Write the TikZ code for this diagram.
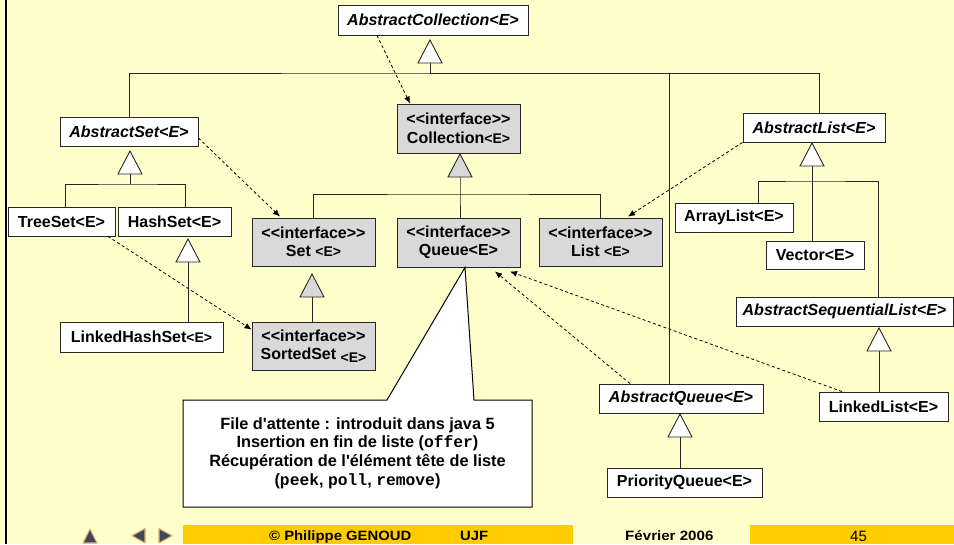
\documentclass[tikz,border=0pt]{standalone}
\usepackage{fontspec}
\newfontfamily\uifont{Liberation Sans}
\newfontfamily\codefont{Liberation Mono}
\usetikzlibrary{arrows.meta,calc}
\definecolor{paper}{HTML}{FFFFCC}
\definecolor{ifill}{HTML}{D9D9D9}
\definecolor{bar}{HTML}{FFCC00}
\definecolor{navfill}{RGB}{62,72,88}
\definecolor{navglow}{RGB}{232,172,118}
% generalisation arrow head: apex given, base 23pt below
\newcommand\gentri[2]{\draw[#1] (#2) -- ++(-12,23) -- ++(24,0) -- cycle;}
\newcommand\smallE{{\fontsize{14}{14}\selectfont<E>}}
\begin{document}
\begin{tikzpicture}[x=1pt,y=-1pt,
  box/.style={draw=black!85, line width=0.9pt, fill=white, inner sep=0pt,
    font=\uifont\bfseries\fontsize{16}{18.5}\selectfont, align=center},
  abs/.style={box, font=\uifont\bfseries\itshape\fontsize{16}{18.5}\selectfont},
  iface/.style={box, fill=ifill},
  link/.style={line width=0.9pt, draw=black!85},
  real/.style={line width=0.8pt, dash pattern=on 3pt off 2.5pt,
    -{Latex[length=7pt,width=6pt]}},
  gen/.style={draw=black!85, line width=0.9pt, fill=white},
  igen/.style={gen, fill=ifill},
  note/.style={font=\uifont\bfseries\fontsize{16.3}{18.7}\selectfont, align=center, inner sep=0pt},
  foot/.style={font=\uifont\bfseries\fontsize{13.5}{13.5}\selectfont, inner sep=0pt, anchor=base west},
  nav/.style={fill=navfill, draw=navglow, line width=1.1pt, line join=round},
]
\useasboundingbox (0,0) rectangle (954,544);
\fill[paper] (0,0) rectangle (954,544);
\draw[line width=2.5pt] (6,0) -- (6,544);

% ---- classes ----
\node[abs, minimum width=190, minimum height=30] (AC) at (433,20) {AbstractCollection<E>};
\node[abs, minimum width=138, minimum height=29] (AS) at (129,131.5) {AbstractSet<E>};
\node[box, minimum width=107, minimum height=29] (TS) at (61.5,221.5) {TreeSet<E>};
\node[box, minimum width=113, minimum height=29] (HS) at (174.5,221.5) {HashSet<E>};
\node[box, minimum width=163, minimum height=30] (LHS) at (141.5,337) {LinkedHashSet\smallE};
\node[iface, minimum width=123, minimum height=49] (Coll) at (458.5,128.5) {<{}<interface>{}>\\ Collection\smallE};
\node[iface, minimum width=123, minimum height=48] (SetI) at (313.5,242) {<{}<interface>{}>\\ Set \smallE};
\node[iface, minimum width=123, minimum height=49] (QueueI) at (458.5,242.5) {<{}<interface>{}>\\ Queue<E>};
\node[iface, minimum width=123, minimum height=48] (ListI) at (600.5,242) {<{}<interface>{}>\\ List \smallE};
\node[iface, minimum width=123, minimum height=48] (Sorted) at (313.5,346) {<{}<interface>{}>\\ SortedSet \raisebox{-3pt}{\smallE}};
\node[abs, minimum width=142, minimum height=29] (AL) at (814,127.5) {AbstractList<E>};
\node[box, minimum width=118, minimum height=29] (ArrL) at (734,217.5) {ArrayList<E>};
\node[box, minimum width=98, minimum height=28] (Vec) at (815,255) {Vector<E>};
\node[abs, minimum width=217, minimum height=29] (ASL) at (844.5,311.5) {AbstractSequentialList<E>};
\node[box, minimum width=129, minimum height=29] (LL) at (883.5,406.5) {LinkedList<E>};
\node[abs, minimum width=164, minimum height=29] (AQ) at (681,398.5) {AbstractQueue<E>};
\node[box, minimum width=155, minimum height=29] (PQ) at (684.5,482.5) {PriorityQueue<E>};

% ---- inheritance ----
\coordinate (acA) at (430,40);   \path (acA) ++(0,23) coordinate (acB); \coordinate (acS) at (430,73);
\coordinate (asA) at (130,151);  \path (asA) ++(0,23) coordinate (asB); \coordinate (asS) at (130,184);
\coordinate (hsA) at (188,239);  \path (hsA) ++(0,23) coordinate (hsB);
\coordinate (coA) at (460,154);  \path (coA) ++(0,23) coordinate (coB); \coordinate (coS) at (460,194);
\coordinate (seA) at (312,274);  \path (seA) ++(0,23) coordinate (seB);
\coordinate (alA) at (812,143);  \path (alA) ++(0,23) coordinate (alB); \coordinate (alS) at (812,181);
\coordinate (slA) at (879,328);  \path (slA) ++(0,23) coordinate (slB);
\coordinate (aqA) at (680,414);  \path (aqA) ++(0,23) coordinate (aqB);

\draw[link] (acB) -- (acS);
\draw[link] (AS.north) |- (acS) -| ([xshift=5pt]AL.north);
\draw[link] ([xshift=-12pt]AQ.north) |- (acS);

\draw[link] (asB) -- (asS);
\draw[link] ([xshift=3.5pt]TS.north) |- (asS) -| ([xshift=10.5pt]HS.north);
\draw[link] (hsB) -- (hsB |- LHS.north);

\draw[link] (coB) -- (coS) -- (coS |- QueueI.north);
\draw[link] (SetI.north) |- (coS) -| (ListI.north);
\draw[link] (seB) -- (seB |- Sorted.north);

\draw[link] (alB) -- (alB |- Vec.north);
\draw[link] ([xshift=24pt]ArrL.north) |- (alS) -| ([xshift=33.5pt]ASL.north);
\draw[link] (slB) -- (slB |- LL.north);
\draw[link] (aqB) -- (aqB |- PQ.north);

\gentri{gen}{acA}
\gentri{gen}{asA}
\gentri{gen}{hsA}
\gentri{igen}{coA}
\gentri{igen}{seA}
\gentri{gen}{alA}
\gentri{gen}{slA}
\gentri{gen}{aqA}

% ---- realisation ----
\draw[real] ([xshift=-56pt]AC.south) -- ([xshift=-48.5pt]Coll.north);
\draw[real] ([yshift=-6.5pt]AS.east) -- ([xshift=-33.5pt,yshift=1pt]SetI.north);
\draw[real] (AL.south west) -- ([xshift=27.5pt,yshift=1pt]ListI.north);
\draw[real] ([xshift=46.5pt]TS.south) -- ([yshift=-8pt]Sorted.north west);
\draw[real] ([xshift=-51pt]AQ.north) -- ([xshift=36.5pt,yshift=-4pt]QueueI.south);
\draw[real] ([xshift=-41.5pt]LL.north) -- ([xshift=51.5pt,yshift=-4pt]QueueI.south);

% ---- callout on Queue ----
\coordinate (tail) at ([xshift=6.5pt]QueueI.south);
\draw[line width=1pt, fill=white] (183,400) -- (387,400) -- (tail) -- (474,400)
  -- (532,400) -- (532,507) -- (183,507) -- cycle;
\node[note] (note) at (357.5,453) {File d'attente : introduit dans java 5\\
  Insertion en fin de liste ({\codefont offer})\\
  Récupération de l'élément tête de liste\\
  ({\codefont peek}, {\codefont poll}, {\codefont remove})};

% ---- footer ----
\fill[bar] (183,525) rectangle (573,544);
\fill[bar] (750,525) rectangle (954,544);
\node[foot] (copy) at (269,540.5) {\scalebox{1.1}[1]{© Philippe GENOUD}};
\node[foot] (ujf) at (460,540.5) {\scalebox{1.1}[1]{UJF}};
\node[foot] (date) at (625,540.5) {\scalebox{1.12}[1]{Février 2006}};
\node[foot, font=\uifont\fontsize{15}{15}\selectfont] (page) at (850,541.5) {45};
\filldraw[nav] (83,543) -- (97,543) -- (90,529) -- cycle;
\filldraw[nav] (145,528.5) -- (145,543) -- (132,535.75) -- cycle;
\filldraw[nav] (159,528.5) -- (159,543) -- (172,535.75) -- cycle;
\end{tikzpicture}
\end{document}
